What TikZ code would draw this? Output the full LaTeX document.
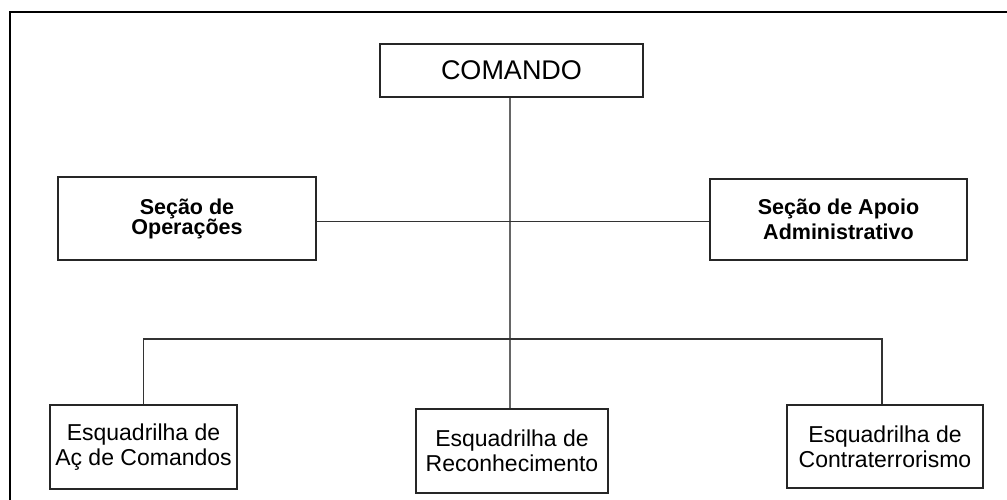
\documentclass[tikz,border=0pt]{standalone}
\usepackage{fontspec}
\setmainfont{Liberation Sans}
\usetikzlibrary{positioning,calc}

\begin{document}
\begin{tikzpicture}[x=1pt,y=-1pt,
    unit/.style={draw=black!85, line width=2pt, inner sep=0pt, align=center},
    link/.style={draw=black!80, line width=1.6pt}]
            \useasboundingbox (0,0) rectangle (1007,499);
            % outer frame
            \draw[line width=2.4pt] (10,530) |- (1030,12);
            % command
            \node[unit, minimum width=263, minimum height=53,
                  font=\fontsize{27}{30}\selectfont] (cmd) at (511.5,70.5) {COMANDO};
            % sections
            \node[unit, minimum width=258, minimum height=83,
                  font=\bfseries\fontsize{21.5}{20}\selectfont] (secop) at (187,218.5) {Seção de\\Operações};
            \node[unit, minimum width=257, minimum height=81,
                  font=\bfseries\fontsize{21.5}{25}\selectfont] (secadm) at (838.5,219.5) {Seção de Apoio\\Administrativo};
            % squadrons
            \node[unit, minimum width=187, minimum height=84,
                  font=\fontsize{23}{25}\selectfont] (esqac) at (143.5,447) {Esquadrilha de\\Aç de Comandos};
            \node[unit, minimum width=192, minimum height=84,
                  font=\fontsize{23}{25}\selectfont] (recon) at (512,451) {Esquadrilha de\\Reconhecimento};
            \node[unit, minimum width=196, minimum height=83,
                  font=\fontsize{23}{25}\selectfont] (esqct) at (885,446.5) {Esquadrilha de\\Contraterrorismo};
            % connectors
            \coordinate (bus) at (510,339);
            \draw[link, draw=black!60] ([xshift=-1.5pt]cmd.south) -- ([xshift=-1.5pt]cmd.south |- recon.north);
            \draw[link] ([yshift=-3pt]secop.east) -- ([yshift=-3pt]secop.east -| secadm.west);
            \draw[link] (esqac.north) |- (bus) -| ([xshift=-3pt]esqct.north);
          \end{tikzpicture}
\end{document}
